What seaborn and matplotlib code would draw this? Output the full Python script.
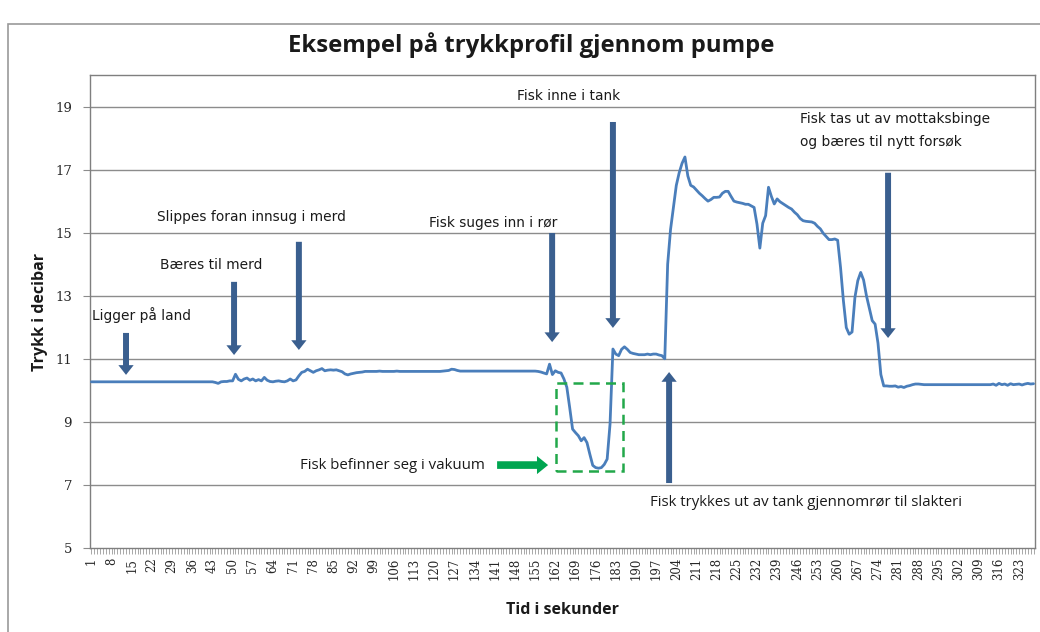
import matplotlib
matplotlib.use("Agg")
import matplotlib.pyplot as plt
from matplotlib.patches import Rectangle
import seaborn as sns
import pandas as pd

# ---------------- data ----------------
pressure = [
    10.27, 10.27, 10.27, 10.27, 10.27, 10.27, 10.27, 10.27, 10.27, 10.27,   # 1-10
    10.27, 10.27, 10.27, 10.27, 10.27, 10.27, 10.27, 10.27, 10.27, 10.27,   # 11-20
    10.27, 10.27, 10.27, 10.27, 10.27, 10.27, 10.27, 10.27, 10.27, 10.27,   # 21-30
    10.27, 10.27, 10.27, 10.27, 10.27, 10.27, 10.27, 10.27, 10.27, 10.27,   # 31-40
    10.27, 10.27, 10.27, 10.25, 10.22, 10.27, 10.28, 10.28, 10.30, 10.30,   # 41-50
    10.51, 10.35, 10.30, 10.36, 10.39, 10.32, 10.36, 10.30, 10.34, 10.30,   # 51-60
    10.41, 10.32, 10.28, 10.27, 10.29, 10.30, 10.28, 10.27, 10.30, 10.36,   # 61-70
    10.30, 10.33, 10.46, 10.57, 10.60, 10.67, 10.62, 10.57, 10.62, 10.65,   # 71-80
    10.69, 10.62, 10.64, 10.65, 10.64, 10.65, 10.62, 10.59, 10.52, 10.49,   # 81-90
    10.52, 10.54, 10.56, 10.57, 10.58, 10.60, 10.60, 10.60, 10.60, 10.60,   # 91-100
    10.61, 10.60, 10.60, 10.60, 10.60, 10.60, 10.61, 10.60, 10.60, 10.60,   # 101-110
    10.60, 10.60, 10.60, 10.60, 10.60, 10.60, 10.60, 10.60, 10.60, 10.60,   # 111-120
    10.60, 10.60, 10.61, 10.62, 10.63, 10.67, 10.66, 10.63, 10.61, 10.61,   # 121-130
    10.61, 10.61, 10.61, 10.61, 10.61, 10.61, 10.61, 10.61, 10.61, 10.61,   # 131-140
    10.61, 10.61, 10.61, 10.61, 10.61, 10.61, 10.61, 10.61, 10.61, 10.61,   # 141-150
    10.61, 10.61, 10.61, 10.61, 10.61, 10.60, 10.58, 10.55, 10.52, 10.83,   # 151-160
    10.50, 10.62, 10.57, 10.55, 10.36, 10.10, 9.45, 8.77, 8.66, 8.56,       # 161-170
    8.40, 8.50, 8.34, 7.97, 7.62, 7.55, 7.53, 7.55, 7.65, 7.82,             # 171-180
    8.93, 11.31, 11.15, 11.10, 11.30, 11.38, 11.30, 11.20, 11.17, 11.15,    # 181-190
    11.13, 11.13, 11.13, 11.15, 11.13, 11.15, 11.15, 11.12, 11.10, 11.00,   # 191-200
    14.00, 15.10, 15.80, 16.50, 16.90, 17.20, 17.40, 16.80, 16.50, 16.45,   # 201-210
    16.35, 16.25, 16.17, 16.08, 16.00, 16.05, 16.12, 16.12, 16.13, 16.25,   # 211-220
    16.31, 16.31, 16.15, 16.00, 15.97, 15.95, 15.93, 15.90, 15.90, 15.85,   # 221-230
    15.80, 15.27, 14.51, 15.30, 15.54, 16.44, 16.15, 15.91, 16.07, 15.98,   # 231-240
    15.92, 15.86, 15.80, 15.75, 15.65, 15.57, 15.45, 15.38, 15.36, 15.35,   # 241-250
    15.34, 15.30, 15.20, 15.12, 14.98, 14.88, 14.78, 14.78, 14.80, 14.76,   # 251-260
    13.90, 12.84, 11.99, 11.78, 11.85, 12.95, 13.48, 13.74, 13.50, 13.00,   # 261-270
    12.60, 12.21, 12.10, 11.50, 10.50, 10.14, 10.14, 10.13, 10.13, 10.14,   # 271-280
    10.10, 10.12, 10.09, 10.13, 10.15, 10.18, 10.20, 10.20, 10.19, 10.18,   # 281-290
    10.18, 10.18, 10.18, 10.18, 10.18, 10.18, 10.18, 10.18, 10.18, 10.18,   # 291-300
    10.18, 10.18, 10.18, 10.18, 10.18, 10.18, 10.18, 10.18, 10.18, 10.18,   # 301-310
    10.18, 10.18, 10.18, 10.20, 10.16, 10.22, 10.18, 10.20, 10.16, 10.21,   # 311-320
    10.18, 10.19, 10.20, 10.17, 10.20, 10.22, 10.20, 10.21,                 # 321-328
]
seconds = list(range(1, len(pressure) + 1))
x_tick_labels = [str(s) for s in seconds[::7]]
y_ticks = [5, 7, 9, 11, 13, 15, 17, 19]

title = "Eksempel på trykkprofil gjennom pumpe"
x_label = "Tid i sekunder"
y_label = "Trykk i decibar"

# annotations: (text, x, y) and down arrows (x, y_start, y_end)
notes = [
    ("Ligger på land", 1.2, 12.39),
    ("Bæres til merd", 24.8, 13.98),
    ("Slippes foran innsug i merd", 23.8, 15.50),
    ("Fisk suges inn i rør", 118.2, 15.31),
    ("Fisk inne i tank", 148.7, 19.34),
    ("Fisk tas ut av mottaksbinge", 246.9, 18.61),
    ("og bæres til nytt forsøk", 246.9, 17.88),
]
down_arrows = [
    (13.0, 11.82, 10.49),
    (50.5, 13.44, 11.12),
    (73.0, 14.71, 11.28),
    (160.9, 14.99, 11.53),
    (182.0, 18.51, 11.98),
    (277.5, 16.90, 11.66),
]
up_arrow = (201.5, 7.06, 10.58)
vacuum_text = ("Fisk befinner seg i vakuum", 73.4, 7.63)
vacuum_arrow = (141.8, 159.5, 7.63)
vacuum_box = (162.3, 185.5, 7.44, 10.24)
out_text = ("Fisk trykkes ut av tank gjennomrør til slakteri", 194.9, 6.43)

# ---------------- style ----------------
sns.set_style("white")
plt.rcParams["font.family"] = ["DejaVu Sans"]

W, H = 1040, 632
fig = plt.figure(figsize=(W / 100, H / 100), dpi=100)
fig.patch.set_facecolor("white")

# outer chart border
fig.add_artist(Rectangle((8 / W, -0.02), 1.2, 1 - 24 / H + 0.02,
                         transform=fig.transFigure, fill=False,
                         edgecolor="#9A9A9A", linewidth=1.2))

ax = fig.add_axes([90 / W, 1 - 548 / H, 945 / W, 473 / H])

df = pd.DataFrame({"Tid": seconds, "Trykk": pressure})
sns.lineplot(data=df, x="Tid", y="Trykk", ax=ax, color="#4A7EBB",
             linewidth=2.0, zorder=3)

ax.set_xlim(0.5, len(pressure) + 0.5)
ax.set_ylim(5, 20)

ax.set_yticks(y_ticks)
ax.set_yticklabels([str(v) for v in y_ticks], family=["DejaVu Serif"], fontsize=9.5)
ax.set_xticks(seconds[::7])
ax.set_xticklabels(x_tick_labels, rotation=90, family=["DejaVu Serif"], fontsize=8.5)
ax.set_xticks(seconds, minor=True)

for yv in y_ticks[1:]:
    ax.axhline(yv, color="#8C8C8C", linewidth=1.0, zorder=1)

for sp in ax.spines.values():
    sp.set_visible(True)
    sp.set_color("#7F7F7F")
    sp.set_linewidth(1.0)

ax.tick_params(axis="x", which="both", direction="out", length=4, width=0.6,
               color="#9A9A9A", pad=3, bottom=True)
ax.tick_params(axis="y", which="major", direction="out", length=5, width=0.8,
               color="#8C8C8C", pad=8, left=True)

ax.set_xlabel(x_label, fontsize=11.5, fontweight="bold", family=["Open Sans", "DejaVu Sans"],
              labelpad=16, color="#1A1A1A")
ax.set_ylabel(y_label, fontsize=11.5, fontweight="bold", family=["Open Sans", "DejaVu Sans"],
              labelpad=5, color="#1A1A1A")

fig.text(531 / W, 1 - 45 / H, title, ha="center", va="center", fontsize=17.2,
         fontweight="bold", family=["Open Sans", "DejaVu Sans"], color="#1A1A1A")

arrow_color = "#3A5F8F"
for txt, xv, yv in notes:
    ax.text(xv, yv, txt, ha="left", va="center", fontsize=9.9, color="#1A1A1A",
            family=["DejaVu Sans"], zorder=5)

for xv, y0, y1 in down_arrows:
    ax.annotate("", xy=(xv, y1), xytext=(xv, y0),
                arrowprops=dict(facecolor=arrow_color, edgecolor="none", width=4.3,
                                headwidth=11, headlength=7, shrink=0), zorder=4)

ax.annotate("", xy=(up_arrow[0], up_arrow[2]), xytext=(up_arrow[0], up_arrow[1]),
            arrowprops=dict(facecolor=arrow_color, edgecolor="none", width=4.3,
                            headwidth=11, headlength=7, shrink=0), zorder=4)

ax.text(vacuum_text[1], vacuum_text[2], vacuum_text[0], ha="left", va="center",
        fontsize=10.8, color="#1A1A1A", family=["Open Sans", "DejaVu Sans"], zorder=5)
ax.annotate("", xy=(vacuum_arrow[1], vacuum_arrow[2]), xytext=(vacuum_arrow[0], vacuum_arrow[2]),
            arrowprops=dict(facecolor="#00A550", edgecolor="none", width=5.5,
                            headwidth=13, headlength=8, shrink=0), zorder=4)
bx0, bx1, by0, by1 = vacuum_box
ax.add_patch(Rectangle((bx0, by0), bx1 - bx0, by1 - by0, fill=False,
                       edgecolor="#22A84A", linewidth=1.8, linestyle=(0, (4, 2.5)), zorder=4))

ax.text(out_text[1], out_text[2], out_text[0], ha="left", va="center",
        fontsize=10.8, color="#1A1A1A", family=["Open Sans", "DejaVu Sans"], zorder=5)

fig.savefig("out.png", dpi=100, facecolor="white")
